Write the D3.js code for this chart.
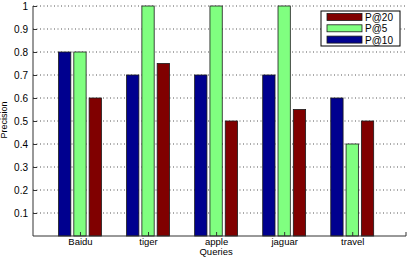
<!DOCTYPE html>
<html><head><meta charset="utf-8">
<script src="https://cdn.jsdelivr.net/npm/d3@7"></script>
<style>html,body{margin:0;padding:0;background:#fff;}svg{display:block;font-family:"Liberation Sans",Arial,sans-serif;}</style>
</head><body><svg id="c" width="410" height="260"></svg>
<script>
const categories = ["Baidu","tiger","apple","jaguar","travel"];
const seriesNames = ["P@10","P@5","P@20"];
const p10 = [0.8,0.7,0.7,0.7,0.6];
const p5  = [0.8,1.0,1.0,1.0,0.4];
const p20 = [0.6,0.75,0.5,0.55,0.5];
const colors = ["#00008f","#80ff80","#800000"];
const yTicks = [0.1,0.2,0.3,0.4,0.5,0.6,0.7,0.8,0.9,1];
const legendOrder = ["P@20","P@5","P@10"];

const series = [p10,p5,p20];
const svg = d3.select("#c");
const L=33, R=406, T=6, B=236;
const x = d3.scaleLinear().domain([-0.69,4.79]).range([L,R]);
const y = d3.scaleLinear().domain([0,1]).range([B,T]);
const off = d3.scaleLinear().domain([-1,1]).range([-15.3,15.3]);
const bw = 12.3;

// grid
svg.append("g").selectAll("line").data(yTicks).join("line")
  .attr("x1",L).attr("x2",R).attr("y1",d=>y(d)).attr("y2",d=>y(d))
  .attr("stroke","#555").attr("stroke-width",1).attr("stroke-dasharray","1,2.5");

// bars
series.forEach((s,si)=>{
  svg.append("g").selectAll("rect").data(s).join("rect")
    .attr("x",(d,i)=>x(i)+off(si-1)-bw/2)
    .attr("y",d=>y(d))
    .attr("width",bw)
    .attr("height",d=>B-y(d))
    .attr("fill",colors[si]).attr("stroke","#1a1a1a").attr("stroke-width",0.8);
});

// axes
const ya = d3.axisLeft(y).tickValues(yTicks).tickSize(-4).tickPadding(5).tickFormat(d3.format("~g"));
const gy = svg.append("g").attr("transform",`translate(${L},0)`).call(ya);
gy.select(".domain").attr("d",`M0,${B}V${T}`).attr("stroke","#333");
gy.selectAll(".tick line").attr("stroke","#333");
gy.selectAll("text").attr("font-size",10).attr("fill","#000").attr("font-family","Liberation Sans, Arial, sans-serif");

const xa = d3.axisBottom(x).tickValues(d3.range(categories.length)).tickSize(-4).tickPadding(6).tickFormat(i=>categories[i]);
const gx = svg.append("g").attr("transform",`translate(0,${B})`).call(xa);
gx.select(".domain").attr("d",`M${L},0H${R}V-4`).attr("stroke","#333");
gx.selectAll(".tick line").attr("stroke","#333");
gx.selectAll("text").attr("y",9).attr("dy",null).attr("font-size",9.5).attr("fill","#000").attr("font-family","Liberation Sans, Arial, sans-serif");

svg.append("text").attr("x",x(2)).attr("y",255).attr("text-anchor","middle")
  .attr("font-size",9.5).text("Queries");
svg.append("text").attr("transform",`translate(7,${(T+B)/2 - 1}) rotate(-90)`).attr("text-anchor","middle")
  .attr("font-size",9).text("Precision");

// legend
const lg = svg.append("g").attr("transform","translate(321,11)");
lg.append("rect").attr("width",79).attr("height",35).attr("fill","#fff").attr("stroke","#000").attr("stroke-width",1);
legendOrder.forEach((n,i)=>{
  const si = seriesNames.indexOf(n);
  lg.append("rect").attr("x",6).attr("y",2.5+i*11.3).attr("width",35).attr("height",7)
    .attr("fill",colors[si]).attr("stroke","#1a1a1a").attr("stroke-width",0.8);
  lg.append("text").attr("x",44).attr("y",10+i*11.3).attr("font-size",10).text(n);
});
</script></body></html>
